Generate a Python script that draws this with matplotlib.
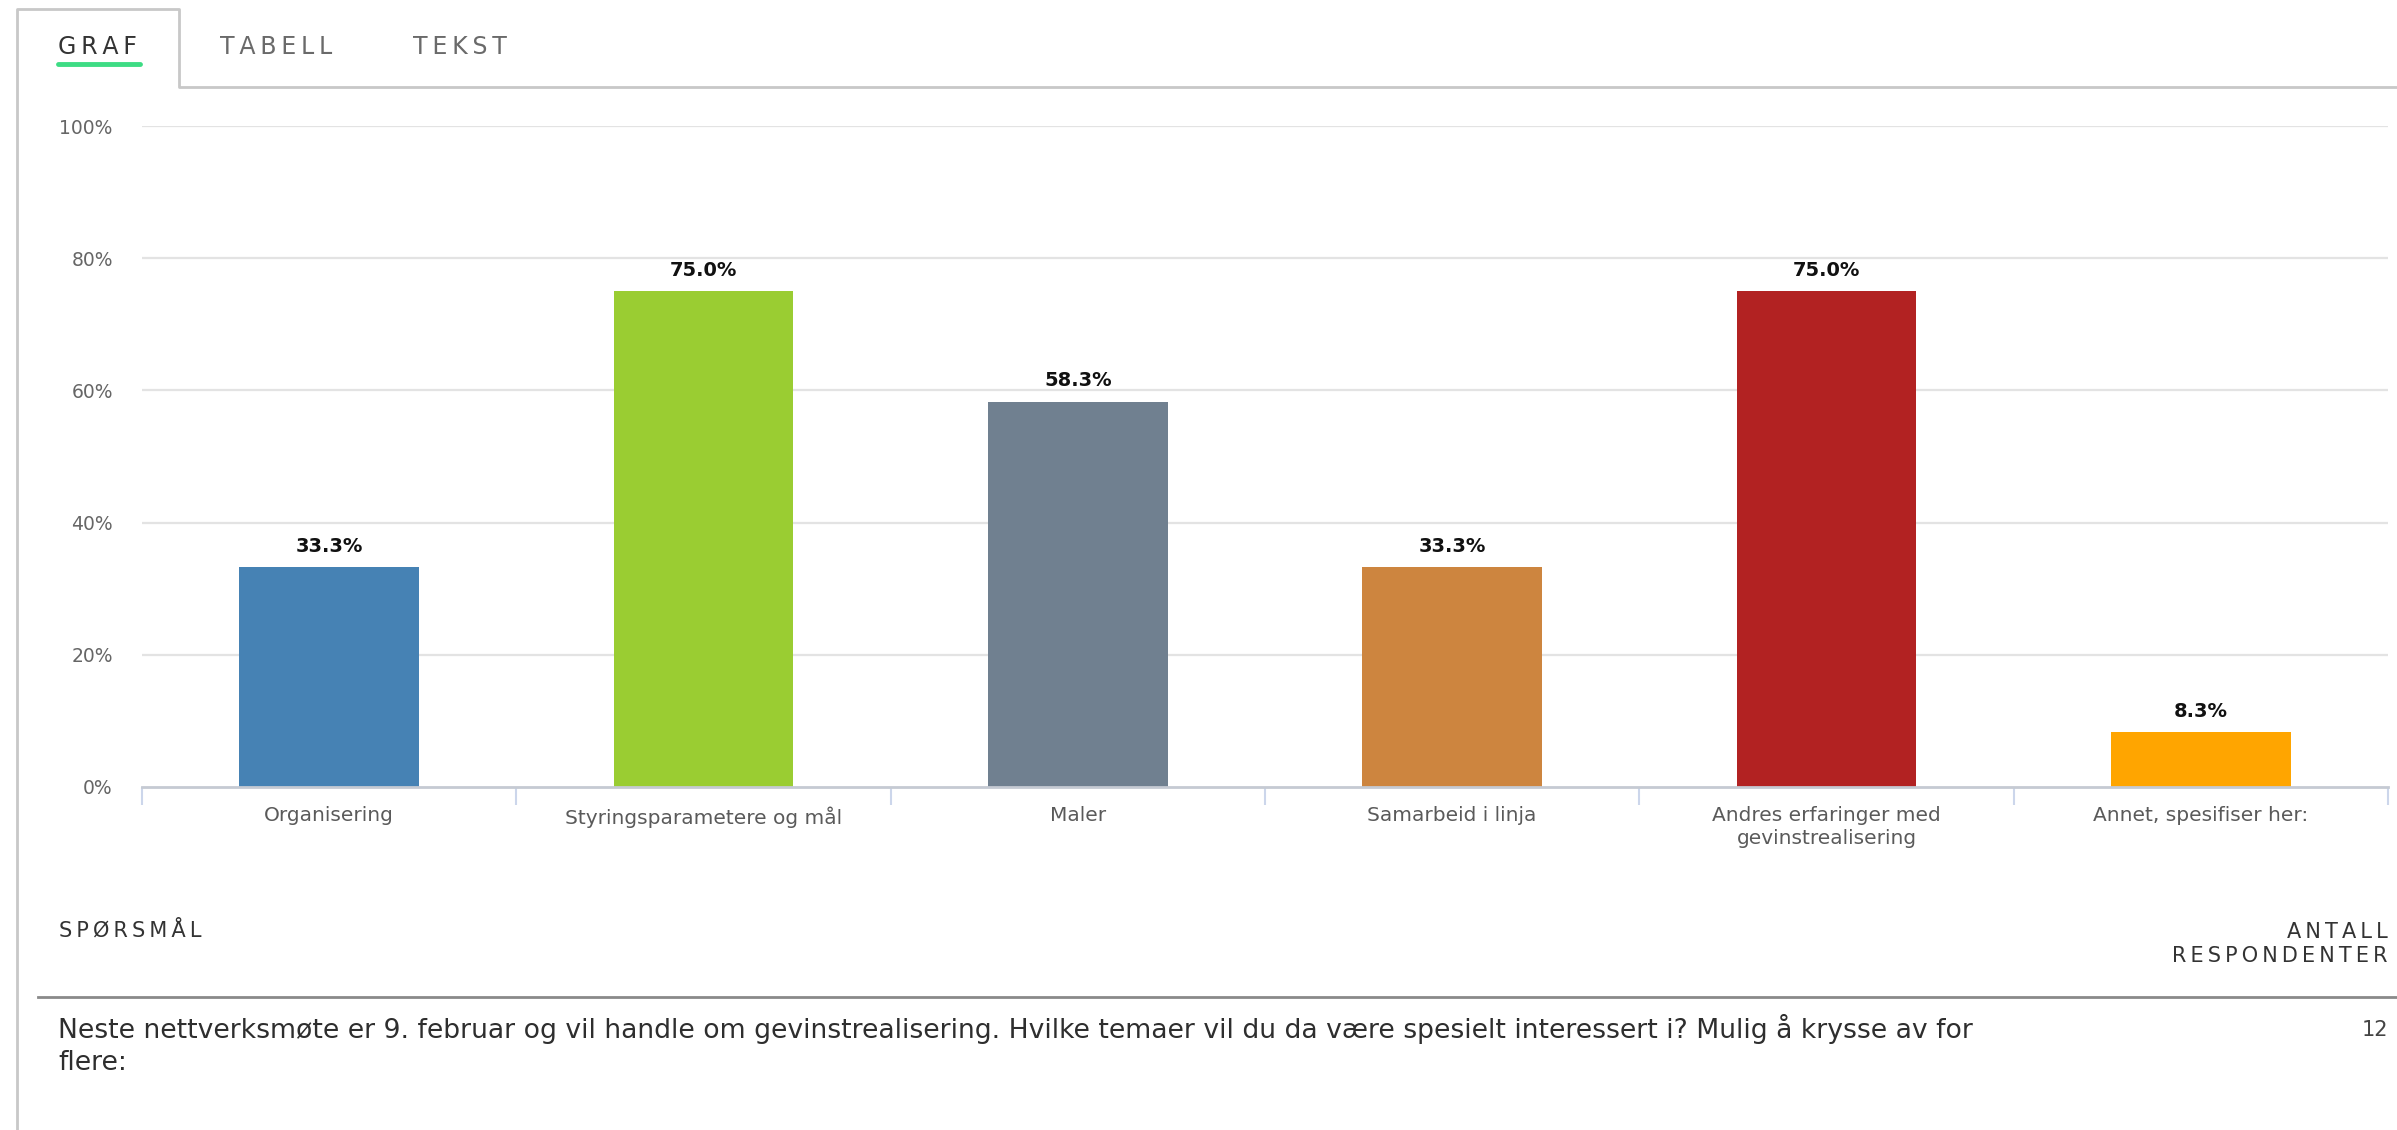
import matplotlib
matplotlib.use("Agg")
import matplotlib.pyplot as plt
from matplotlib.lines import Line2D

# ---- data ----
categories = ["Organisering", "Styringsparametere og mål", "Maler",
              "Samarbeid i linja", "Andres erfaringer med\ngevinstrealisering",
              "Annet, spesifiser her:"]
values = [33.3, 75.0, 58.3, 33.3, 75.0, 8.3]
colors = ["#4682B4", "#9ACD32", "#708090", "#CD853F", "#B22222", "#FFA500"]
y_ticks = [0, 20, 40, 60, 80, 100]
tabs = ["GRAF", "TABELL", "TEKST"]
question = ("Neste nettverksmøte er 9. februar og vil handle om gevinstrealisering. "
            "Hvilke temaer vil du da være spesielt interessert i? Mulig å krysse av for\nflere:")
respondents = 12

W, H = 2397, 1130
plt.rcParams['font.family'] = ['DejaVu Sans']
fig = plt.figure(figsize=(W / 100, H / 100), dpi=100)
fig.patch.set_facecolor("white")

def fx(x):
    return x / W

def fy(y):
    return 1 - y / H

def spaced(s):
    return "\u2009".join(s)

# ---- axes placement (pixel coords of reference) ----
ax_l, ax_r, ax_t, ax_b = 142, 2388, 126, 787
ax = fig.add_axes([fx(ax_l), fy(ax_b), (ax_r - ax_l) / W, (ax_b - ax_t) / H])
ax.set_facecolor("white")
x = list(range(len(categories)))
ax.bar(x, values, width=0.48, color=colors, zorder=3)
ax.set_xlim(-0.5, len(categories) - 0.5)
ax.set_ylim(0, 100)

for s in ["top", "right", "left"]:
    ax.spines[s].set_visible(False)
ax.spines["bottom"].set_color("#c5cad3")
ax.spines["bottom"].set_linewidth(2)
ax.spines["bottom"].set_zorder(4)

ax.set_yticks(y_ticks)
ax.set_yticklabels([f"{t}%" for t in y_ticks], fontsize=13.5, color="#666666")
ax.tick_params(axis="y", length=0, pad=21)
for t in y_ticks[1:]:
    ax.axhline(t, color="#e3e3e3", lw=1.6, zorder=1)

ax.set_xticks(x)
ax.set_xticklabels(categories, fontsize=14.5, color="#5a5a5a", linespacing=1.25)
ax.set_xticks([i - 0.5 for i in range(len(categories) + 1)], minor=True)
ax.tick_params(axis="x", which="major", length=0, pad=14)
ax.tick_params(axis="x", which="minor", length=13, width=1.5, color="#ccd6eb")

for xi, v in zip(x, values):
    ax.annotate(f"{v:.1f}%", (xi, v), xytext=(0, 15), textcoords="offset points",
                ha="center", va="center", fontsize=14, fontweight="bold",
                color="#111111", zorder=5)

# ---- tab header ----
border = "#c8c8c8"
fig.add_artist(Line2D([fx(17), fx(17), fx(179), fx(179), fx(W)],
                      [fy(H), fy(9), fy(9), fy(87), fy(87)],
                      color=border, lw=2, transform=fig.transFigure))
tab_x = [58, 220, 413]
tab_colors = ["#333333", "#6a6a6a", "#6a6a6a"]
for tx, lab, c in zip(tab_x, tabs, tab_colors):
    fig.text(fx(tx), fy(47), spaced(lab), fontsize=17, color=c, ha="left", va="center")
fig.add_artist(Line2D([fx(58), fx(140)], [fy(64), fy(64)], color="#3ddc84",
                      lw=3.5, transform=fig.transFigure, solid_capstyle="round"))

# ---- footer table ----
fig.text(fx(59), fy(930), spaced("SPØRSMÅL"), fontsize=15, color="#333333",
         ha="left", va="center")
fig.text(fx(2388), fy(944), spaced("ANTALL") + "\n" + spaced("RESPONDENTER"),
         fontsize=15, color="#333333", ha="right", va="center", linespacing=1.3,
         multialignment="right")
fig.add_artist(Line2D([fx(38), fx(W)], [fy(997), fy(997)], color="#8a8a8a",
                      lw=2, transform=fig.transFigure))
fig.text(fx(58), fy(1014), question, fontsize=19.2, color="#2e2e2e",
         ha="left", va="top", linespacing=1.28)
fig.text(fx(2388), fy(1030), str(respondents), fontsize=15, color="#444444",
         ha="right", va="center")

fig.savefig("out.png", dpi=100, facecolor="white")
